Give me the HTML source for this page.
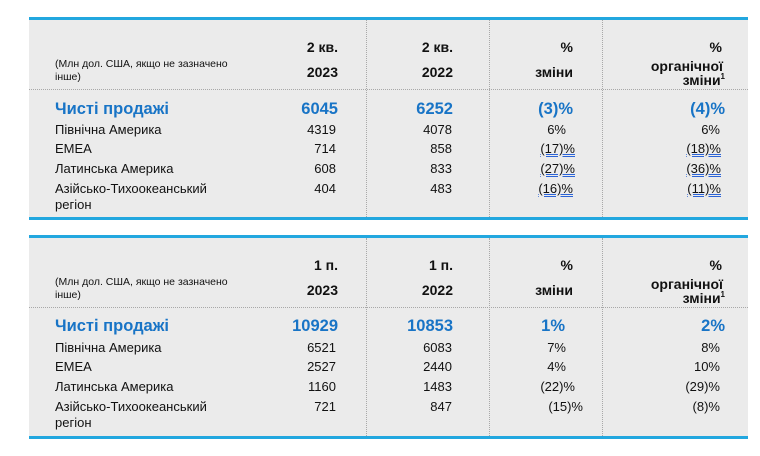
<!DOCTYPE html>
<html><head><meta charset="utf-8"><style>
body{margin:0;width:760px;height:456px;background:#fff;position:relative;overflow:hidden;font-family:"Liberation Sans",Arial,sans-serif;color:#111}
.bg{position:absolute;left:29px;width:719px;background:#ebebeb;border-top:3px solid #22a7df;border-bottom:3px solid #22a7df;box-sizing:border-box}
.v{position:absolute;width:0;border-left:1px dotted #a8a8a8}
.h{position:absolute;left:29px;width:719px;height:0;border-top:1px dotted #a8a8a8}
.t{position:absolute;line-height:16px;font-size:13px;white-space:nowrap}
.r{text-align:right}
.b{font-weight:bold;font-size:14px}
.blue{color:#1874c6;font-weight:bold;font-size:16.5px;line-height:18px}
.n{font-size:10.5px}
.u{text-decoration:underline;text-decoration-style:double;text-decoration-color:#2b63d6}
sup{font-size:8px;vertical-align:6px;line-height:0}
</style></head><body>
<div class="bg" style="top:17px;height:203px"></div>
<div class="h" style="top:89px"></div>
<div class="v" style="left:366px;top:20px;height:197px"></div>
<div class="v" style="left:489px;top:20px;height:197px"></div>
<div class="v" style="left:602px;top:20px;height:197px"></div>

<div class="bg" style="top:235px;height:204px"></div>
<div class="h" style="top:307px"></div>
<div class="v" style="left:366px;top:238px;height:198px"></div>
<div class="v" style="left:489px;top:238px;height:198px"></div>
<div class="v" style="left:602px;top:238px;height:198px"></div>

<!-- table 1 -->
<div class="t n" style="left:55px;top:56px">(Млн дол. США, якщо не зазначено</div>
<div class="t n" style="left:55px;top:69px">інше)</div>
<div class="t b" style="right:422px;top:39px">2 кв.</div>
<div class="t b" style="right:422px;top:64px">2023</div>
<div class="t b" style="right:307px;top:39px">2 кв.</div>
<div class="t b" style="right:307px;top:64px">2022</div>
<div class="t b" style="right:187px;top:39px">%</div>
<div class="t b" style="right:187px;top:64px">зміни</div>
<div class="t b" style="right:38px;top:39px">%</div>
<div class="t b" style="right:37px;top:58px">органічної</div>
<div class="t b" style="right:35px;top:72px">зміни<sup>1</sup></div>

<div class="t blue" style="left:55px;top:100px">Чисті продажі</div>
<div class="t blue" style="right:422px;top:100px">6045</div>
<div class="t blue" style="right:307px;top:100px">6252</div>
<div class="t blue" style="right:187px;top:100px">(3)%</div>
<div class="t blue" style="right:35px;top:100px">(4)%</div>

<div class="t" style="left:55px;top:122px">Північна Америка</div>
<div class="t" style="left:55px;top:141px">EMEA</div>
<div class="t" style="left:55px;top:161px">Латинська Америка</div>
<div class="t" style="left:55px;top:181px">Азійсько-Тихоокеанський</div>
<div class="t" style="left:55px;top:197px">регіон</div>
<div class="t r" style="right:424px;top:122px">4319</div>
<div class="t r" style="right:424px;top:141px">714</div>
<div class="t r" style="right:424px;top:161px">608</div>
<div class="t r" style="right:424px;top:181px">404</div>
<div class="t r" style="right:308px;top:122px">4078</div>
<div class="t r" style="right:308px;top:141px">858</div>
<div class="t r" style="right:308px;top:161px">833</div>
<div class="t r" style="right:308px;top:181px">483</div>
<div class="t r" style="right:194px;top:122px">6%</div>
<div class="t r u" style="right:185px;top:141px">(17)%</div>
<div class="t r u" style="right:185px;top:161px">(27)%</div>
<div class="t r u" style="right:187px;top:181px">(16)%</div>
<div class="t r" style="right:40px;top:122px">6%</div>
<div class="t r u" style="right:39px;top:141px">(18)%</div>
<div class="t r u" style="right:39px;top:161px">(36)%</div>
<div class="t r u" style="right:39px;top:181px">(11)%</div>

<!-- table 2 -->
<div class="t n" style="left:55px;top:274px">(Млн дол. США, якщо не зазначено</div>
<div class="t n" style="left:55px;top:287px">інше)</div>
<div class="t b" style="right:422px;top:257px">1 п.</div>
<div class="t b" style="right:422px;top:282px">2023</div>
<div class="t b" style="right:307px;top:257px">1 п.</div>
<div class="t b" style="right:307px;top:282px">2022</div>
<div class="t b" style="right:187px;top:257px">%</div>
<div class="t b" style="right:187px;top:282px">зміни</div>
<div class="t b" style="right:38px;top:257px">%</div>
<div class="t b" style="right:37px;top:276px">органічної</div>
<div class="t b" style="right:35px;top:290px">зміни<sup>1</sup></div>

<div class="t blue" style="left:55px;top:317px">Чисті продажі</div>
<div class="t blue" style="right:422px;top:317px">10929</div>
<div class="t blue" style="right:307px;top:317px">10853</div>
<div class="t blue" style="right:195px;top:317px">1%</div>
<div class="t blue" style="right:35px;top:317px">2%</div>

<div class="t" style="left:55px;top:340px">Північна Америка</div>
<div class="t" style="left:55px;top:359px">EMEA</div>
<div class="t" style="left:55px;top:379px">Латинська Америка</div>
<div class="t" style="left:55px;top:399px">Азійсько-Тихоокеанський</div>
<div class="t" style="left:55px;top:415px">регіон</div>
<div class="t r" style="right:424px;top:340px">6521</div>
<div class="t r" style="right:424px;top:359px">2527</div>
<div class="t r" style="right:424px;top:379px">1160</div>
<div class="t r" style="right:424px;top:399px">721</div>
<div class="t r" style="right:308px;top:340px">6083</div>
<div class="t r" style="right:308px;top:359px">2440</div>
<div class="t r" style="right:308px;top:379px">1483</div>
<div class="t r" style="right:308px;top:399px">847</div>
<div class="t r" style="right:194px;top:340px">7%</div>
<div class="t r" style="right:194px;top:359px">4%</div>
<div class="t r" style="right:185px;top:379px">(22)%</div>
<div class="t r" style="right:177px;top:399px">(15)%</div>
<div class="t r" style="right:40px;top:340px">8%</div>
<div class="t r" style="right:40px;top:359px">10%</div>
<div class="t r" style="right:40px;top:379px">(29)%</div>
<div class="t r" style="right:40px;top:399px">(8)%</div>
</body></html>
